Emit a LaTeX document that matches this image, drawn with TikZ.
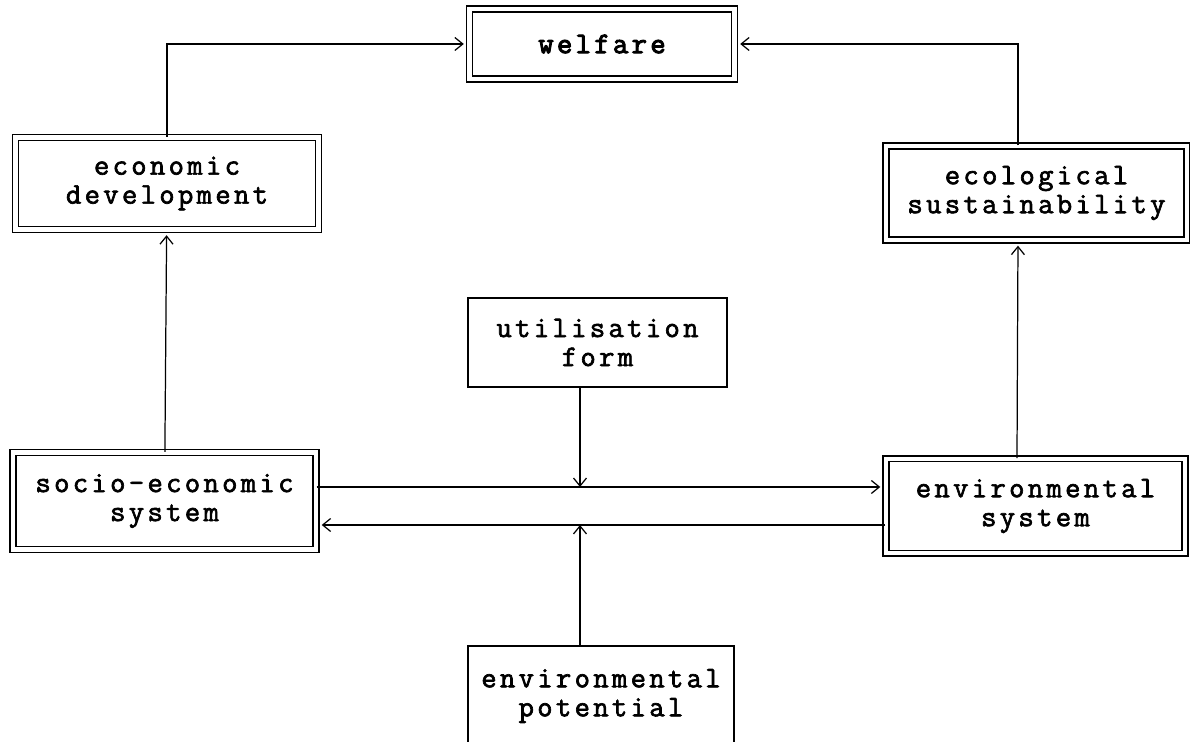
\documentclass[tikz,border=0pt]{standalone}
\usepackage{fontspec}
\setmonofont{Latin Modern Mono}[LetterSpace=11, FakeBold=2.2,
  BoldFont={Latin Modern Mono}, BoldFeatures={FakeBold=3.4}]
\usepackage{tikz}
\usetikzlibrary{positioning,arrows.meta}

\begin{document}
\begin{tikzpicture}[
  font = \ttfamily\fontsize{17}{16.5}\selectfont,
  dbox/.style = {rectangle, draw, double, double distance=2.4pt, line width=0.8pt, align=center, inner sep=0pt},
  sbox/.style = {rectangle, draw, line width=0.8pt, align=center, inner sep=0pt},
  arr/.style  = {-{Straight Barb[length=1.6mm, width=2.6mm]}, line width=0.7pt, shorten >=1mm},
  hit/.style  = {-{Straight Barb[length=1.6mm, width=2.6mm]}, line width=0.7pt}
]
\useasboundingbox (0,0) rectangle (23.8,14.84);
\node[dbox, minimum width=53mm, minimum height=14mm]   (welfare) at (12.04,13.96) {\bfseries welfare};
\node[dbox, minimum width=60.6mm, minimum height=18.4mm] (ecodev) at (3.34,11.17) {economic\\development};
\node[dbox, minimum width=60.2mm, minimum height=18.8mm] (ecosus) at (20.73,10.98) {ecological\\sustainability};
\node[sbox, minimum width=51.8mm, minimum height=17.8mm] (uform)  at (11.95,7.99) {utilisation\\form};
\node[dbox, minimum width=60.6mm, minimum height=19.4mm] (socio)  at (3.29,4.82) {socio-economic\\system};
\node[dbox, minimum width=59.8mm, minimum height=18.9mm] (envsys) at (20.71,4.72) {environmental\\system};
\node[sbox, minimum width=53.2mm, minimum height=20mm]   (envpot) at (12.02,0.92) {environmental\\potential};
% flows between the two systems
\coordinate (fwd) at ([yshift=2.8mm]socio.east);
\coordinate (bwd) at ([yshift=-4.8mm]socio.east);
\coordinate (uhit) at ([xshift=-3.5mm]uform.south |- fwd);
\coordinate (phit) at (uhit |- bwd);
\draw[arr] (ecodev.north) |- (welfare.west);
\draw[arr] ([xshift=-3.7mm]ecosus.north) |- (welfare.east);
\draw[arr] (socio) -- (ecodev);
\draw[arr] ([xshift=-3.7mm]envsys.north) -- ([xshift=-3.7mm]ecosus.south);
\draw[arr] (fwd) -- (fwd -| envsys.west);
\draw[arr] (bwd -| envsys.west) -- (bwd);
\draw[hit] (uform.south -| uhit) -- (uhit);
\draw[hit] (envpot.north -| phit) -- (phit);
\end{tikzpicture}
\end{document}
